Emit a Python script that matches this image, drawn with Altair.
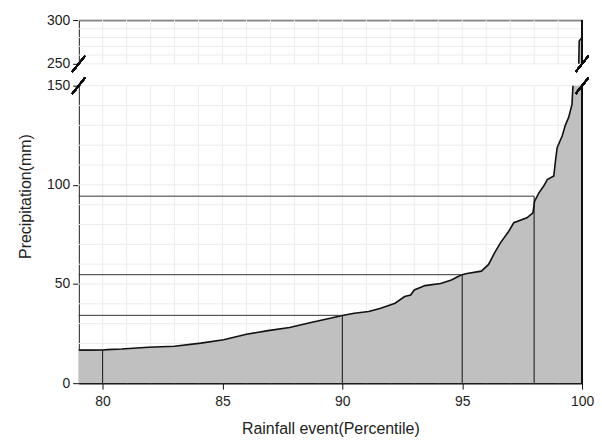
import altair as alt
import pandas as pd

# cumulative curve: percentile vs precipitation (mm)
pct = [79.0, 79.5, 80.0, 80.2, 80.8, 81.9, 83.0, 84.1, 85.05, 86.0, 86.9, 87.8,
       88.6, 89.4, 90.0, 90.5, 91.1, 91.6, 92.2, 92.6, 92.85, 93.0, 93.45, 94.1,
       94.55, 94.95, 95.2, 95.8, 96.1, 96.35, 96.6, 96.95, 97.15, 97.7, 97.95,
       98.02, 98.2, 98.4, 98.55, 98.82, 98.89, 98.96, 99.17, 99.3, 99.44, 99.58,
       99.62, 99.75, 99.85, 99.88, 100.0]
mm = [16.6, 16.6, 16.7, 16.9, 17.2, 18.1, 18.6, 20.2, 21.9, 24.7, 26.5, 28.1,
      30.3, 32.5, 34.1, 35.3, 36.1, 37.8, 40.3, 43.7, 44.5, 47.0, 49.2, 50.3,
      52.0, 54.5, 55.3, 56.5, 59.9, 65.7, 70.9, 76.7, 80.9, 83.4, 85.9,
      91.8, 96.0, 99.4, 102.7, 104.5, 112.0, 118.7, 124.6, 130.0, 134.0, 140.6,
      150.0, 180.0, 230.0, 276.0, 280.0]

# reference thresholds
ref_pct = [80, 90, 95, 98]
ref_mm = [16.9, 34.2, 54.7, 94.3]

x_start = 79
x_end = 100
x_ticks = [80, 85, 90, 95, 100]
x_grid = list(range(79, 101))
low_domain = [0, 150]
high_domain = [250, 300]
low_ticks = [0, 50, 100, 150]
high_ticks = [250, 300]
low_grid = list(range(10, 151, 10))
high_grid = list(range(250, 301, 10))

curve = pd.DataFrame({"p": pct, "mm": mm})
refs = pd.DataFrame({"p": ref_pct, "mm": ref_mm, "p0": [x_start] * len(ref_pct),
                     "zero": [0] * len(ref_pct)})
xg = pd.DataFrame({"g": x_grid})

FONT = "Liberation Sans"
W = 506
H_LOW = 299
H_HIGH = 44
GRID = "#ebebeb"


def panel(domain, yticks, ygrid, height, bottom):
    xs = alt.Scale(domain=[x_start, x_end], nice=False, zero=False)
    ys = alt.Scale(domain=domain, nice=False, zero=False)
    if bottom:
        xaxis = alt.Axis(values=x_ticks, title="Rainfall event(Percentile)", grid=False,
                         tickSize=6, labelPadding=5, titlePadding=13, labelOverlap=False,
                         labelFlush=False)
        yaxis = alt.Axis(values=yticks, title="Precipitation(mm)", grid=False,
                         tickSize=6, labelPadding=3, titleY=111, titlePadding=13,
                         labelOverlap=False, labelFlush=False)
    else:
        xaxis = alt.Axis(values=x_ticks, orient="top", labels=False, ticks=False,
                         grid=False, title=None)
        yaxis = alt.Axis(values=yticks, title=None, grid=False, tickSize=6,
                         labelPadding=3, labelOverlap=False, labelFlush=False)

    vgrid = alt.Chart(xg).mark_rule(color=GRID, strokeWidth=1).encode(
        x=alt.X("g:Q", scale=xs, axis=xaxis)
    )
    hgrid = alt.Chart(pd.DataFrame({"g": ygrid})).mark_rule(color=GRID, strokeWidth=1).encode(
        y=alt.Y("g:Q", scale=ys, axis=yaxis)
    )
    area = alt.Chart(curve).mark_area(color="#c0c0c0", clip=True).encode(
        x=alt.X("p:Q", scale=xs), y=alt.Y("mm:Q", scale=ys)
    )
    line = alt.Chart(curve).mark_line(color="#111111", strokeWidth=1.6, clip=True).encode(
        x=alt.X("p:Q", scale=xs), y=alt.Y("mm:Q", scale=ys)
    )
    layers = [vgrid, hgrid, area, line]
    if bottom:
        vlines = alt.Chart(refs).mark_rule(color="#111111", strokeWidth=1).encode(
            x=alt.X("p:Q", scale=xs), y=alt.Y("zero:Q", scale=ys), y2="mm:Q"
        )
        hlines = alt.Chart(refs).mark_rule(color="#333333", strokeWidth=1).encode(
            x=alt.X("p0:Q", scale=xs), x2="p:Q", y=alt.Y("mm:Q", scale=ys)
        )
        layers += [vlines, hlines]
    frame = alt.Chart(curve).mark_rule(color="#111111", strokeWidth=1.5).encode(
        x=alt.datum(x_end, scale=xs)
    )
    layers.append(frame)
    brk = domain[0] if not bottom else domain[1]
    for xv in (x_start, x_end):
        layers.append(alt.Chart(curve).mark_point(
            shape="M -0.8 1 L 0.8 -1", size=256, filled=False, color="#111111",
            strokeWidth=1.5, opacity=1
        ).encode(x=alt.datum(xv, scale=xs), y=alt.datum(brk, scale=ys)))
    return alt.layer(*layers).properties(width=W, height=height)


top = panel(high_domain, high_ticks, high_grid, H_HIGH, False)
bot = panel(low_domain, low_ticks, low_grid, H_LOW, True)

chart = alt.vconcat(top, bot, spacing=0).configure_view(stroke=None).configure_axis(
    labelFont=FONT, titleFont=FONT, labelFontSize=14, titleFontSize=16,
    labelColor="#222222", titleColor="#222222", titleFontWeight="normal",
    domainColor="#111111", domainWidth=1.5, tickColor="#111111", tickWidth=1
).properties(padding={"left": 9, "top": 4, "right": 0, "bottom": 0})

chart.save("out.html", embed_options={"renderer": "svg", "actions": False})
